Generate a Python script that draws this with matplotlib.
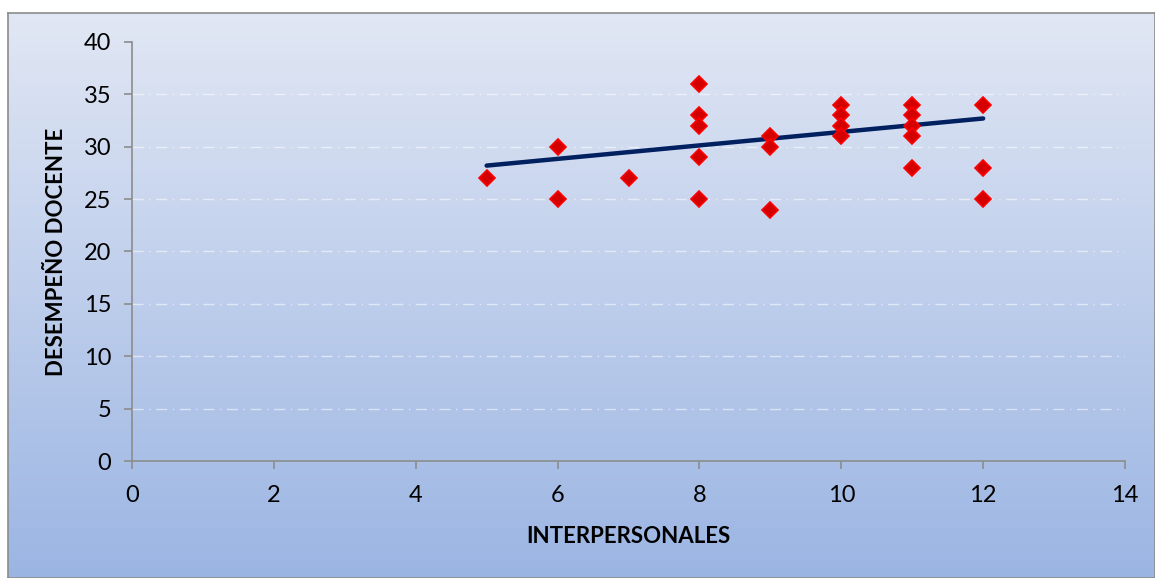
import numpy as np
import matplotlib.pyplot as plt
from matplotlib.colors import LinearSegmentedColormap

# Interpersonal score vs teaching performance
interpersonales = [5, 6, 6, 7, 8, 8, 8, 8, 8, 9, 9, 9, 10, 10, 10, 10, 11, 11, 11, 11, 11, 12, 12, 12]
desempeno = [27, 30, 25, 27, 36, 33, 32, 29, 25, 31, 30, 24, 34, 33, 32, 31, 34, 33, 32, 31, 28, 34, 28, 25]

# Linear trend drawn across the data range
trend_x = [5, 12]
trend_y = [28.2, 32.7]

x_ticks = [0, 2, 4, 6, 8, 10, 12, 14]
y_ticks = [0, 5, 10, 15, 20, 25, 30, 35, 40]

plt.rcParams['font.family'] = ['Lato', 'DejaVu Sans']

fig = plt.figure(figsize=(11.55, 5.78), dpi=100)

# Gradient panel behind the chart, with a thin grey border
W, H = 1155, 578
left_px, top_px = 8, 13
bg = fig.add_axes([left_px / W, 0, 1 - left_px / W, 1 - top_px / H])
grad = np.linspace(0, 1, 256).reshape(-1, 1)
cmap = LinearSegmentedColormap.from_list('panel', ['#e1e7f4', '#9bb5e3'])
bg.imshow(grad, aspect='auto', cmap=cmap, extent=[0, 1, 0, 1], origin='upper')
bg.set_xlim(0, 1)
bg.set_ylim(0, 1)
bg.set_xticks([])
bg.set_yticks([])
for side, sp in bg.spines.items():
    sp.set_color('#8c8c8c')
    sp.set_linewidth(1.2)
bg.set_zorder(0)

ax = fig.add_axes([132 / W, (H - 461) / H, (1125 - 132) / W, (461 - 42) / H])
ax.set_zorder(1)
ax.patch.set_alpha(0)

for y in y_ticks[1:-1]:
    ax.axhline(y, color='#ffffff', alpha=0.55, lw=1.0, dashes=(8, 4, 1, 4), zorder=1)

ax.plot(trend_x, trend_y, color='#002060', lw=3.2, solid_capstyle='round', zorder=2)
ax.plot(interpersonales, desempeno, linestyle='none', marker='D', markersize=8.5,
        markerfacecolor='#d40000', markeredgecolor='#ff0000', markeredgewidth=1.2, zorder=3)

ax.set_xlim(0, 14)
ax.set_ylim(0, 40)
ax.set_xticks(x_ticks)
ax.set_yticks(y_ticks)
ax.tick_params(axis='both', labelsize=17, color='#8c8c8c', length=6, width=1.2, direction='out')
ax.tick_params(axis='x', pad=11)
ax.tick_params(axis='y', pad=9)

for side in ['top', 'right']:
    ax.spines[side].set_visible(False)
for side in ['left', 'bottom']:
    ax.spines[side].set_color('#8c8c8c')
    ax.spines[side].set_linewidth(1.2)

ax.set_xlabel('INTERPERSONALES', fontsize=16, fontweight='bold', labelpad=15)
ax.set_ylabel('DESEMPEÑO DOCENTE', fontsize=16, fontweight='bold', labelpad=12)

fig.savefig('out.png', dpi=100)
